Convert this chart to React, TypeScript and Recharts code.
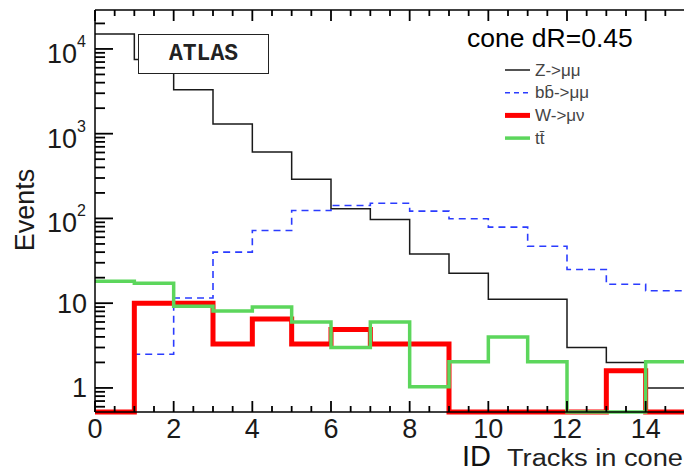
import React from 'react';
import { ComposedChart, Line, XAxis, YAxis } from 'recharts';

// bin edges of the histogram (track multiplicity 0..15)
const BIN_EDGES = [0, 1, 2, 3, 4, 5, 6, 7, 8, 9, 10, 11, 12, 13, 14, 15];

// events per bin (0.52 = empty bin, sits on the floor)
const Z_MUMU = [15000, 7500, 3300, 1300, 610, 290, 130, 97, 38, 22.5, 11.1, 11.1, 3.0, 2.0, 1.0];
const BB_MUMU = [0.52, 2.5, 11.5, 40, 72, 124, 142, 151, 122, 99, 79, 47, 25, 16.7, 14];
const W_MUNU = [0.52, 10, 10, 3.3, 6.5, 3.3, 4.9, 3.3, 3.3, 0.52, 0.52, 0.52, 0.52, 1.6, 0.52];
const TTBAR = [18.2, 17.2, 9.2, 8.1, 9.0, 6.0, 3.0, 6.0, 1.03, 2.04, 4.0, 2.04, 0.52, 0.52, 2.04];

const X_MAJOR = [0, 2, 4, 6, 8, 10, 12, 14];
const X_TICKS = Array.from({ length: 31 }, (_, i) => i / 2);
const Y_MAJOR = [1, 10, 100, 1000, 10000];
const Y_MIN = 0.52;
const Y_MAX = 28800;
const Y_TICKS = [0.1, 1, 10, 100, 1000, 10000]
  .flatMap((d) => [1, 2, 3, 4, 5, 6, 7, 8, 9].map((m) => m * d))
  .filter((v) => v >= Y_MIN && v <= Y_MAX);

const SERIES = [
  { key: 'z', name: 'Z->μμ', color: '#1a1a1a', width: 1.5, dash: undefined },
  { key: 'bb', name: 'bb\u0304->μμ', color: '#2b3cff', width: 1.6, dash: '7 5' },
  { key: 'w', name: 'W->μν', color: '#ff0000', width: 5, dash: undefined },
  { key: 'tt', name: 'tt\u0304', color: '#5cd65c', width: 3.5, dash: undefined },
];

const table = BIN_EDGES.map((x, i) => {
  const k = Math.min(i, Z_MUMU.length - 1);
  return { x, z: Z_MUMU[k], bb: BB_MUMU[k], w: W_MUNU[k], tt: TTBAR[k] };
});

const FONT = '"Liberation Sans", Arial, Helvetica, sans-serif';
const TICK = '#000';
const TICK_W = 1.8;

const BottomTick = (props: any) => {
  const { x, y, payload } = props;
  const major = X_MAJOR.includes(payload.value);
  return (
    <g>
      <path d={`M${x},${y}L${x},${y - (major ? 11 : 6)}`} stroke={TICK} strokeWidth={TICK_W} />
      {major && (
        <text x={x} y={y + 26} textAnchor="middle" fontSize={27} fontFamily={FONT} fill="#1a1a1a">
          {payload.value}
        </text>
      )}
    </g>
  );
};

const TopTick = (props: any) => {
  const { x, y, payload } = props;
  const major = X_MAJOR.includes(payload.value);
  return <path d={`M${x},${y}L${x},${y + (major ? 11 : 6)}`} stroke={TICK} strokeWidth={TICK_W} />;
};

const LeftTick = (props: any) => {
  const { x, y, payload } = props;
  const v = payload.value;
  const major = Y_MAJOR.includes(v);
  const exp = Math.round(Math.log10(v));
  return (
    <g>
      <path d={`M${x},${y}L${x + (major ? 18 : 10)},${y}`} stroke={TICK} strokeWidth={TICK_W} />
      {major && exp >= 2 && (
        <text x={x - 9} y={y + 14} textAnchor="end" fontSize={27} fontFamily={FONT} fill="#1a1a1a">
          <tspan>10</tspan>
          <tspan dy={-16} fontSize={16}>{exp}</tspan>
        </text>
      )}
      {major && exp < 2 && (
        <text x={x - 8} y={y + 9.5} textAnchor="end" fontSize={27} fontFamily={FONT} fill="#1a1a1a">
          {v}
        </text>
      )}
    </g>
  );
};

const RightTick = (props: any) => {
  const { x, y, payload } = props;
  const major = Y_MAJOR.includes(payload.value);
  return <path d={`M${x},${y}L${x - (major ? 18 : 10)},${y}`} stroke={TICK} strokeWidth={TICK_W} />;
};

const axisLine = { stroke: '#000', strokeWidth: 1.5 };

export default function App() {
  return (
    <div style={{ position: 'absolute', left: 0, top: 0, width: 684, height: 471, overflow: 'hidden', background: '#fff' }}>
      <ComposedChart width={686} height={471} data={table} margin={{ top: 0, right: 0, bottom: 0, left: 0 }}>
        <XAxis xAxisId="b" dataKey="x" type="number" domain={[0, 15]} ticks={X_TICKS} interval={0} tick={<BottomTick />} tickLine={false} tickSize={0} tickMargin={0} height={59} axisLine={axisLine} />
        <XAxis xAxisId="t" orientation="top" type="number" domain={[0, 15]} ticks={X_TICKS} interval={0} tick={<TopTick />} tickLine={false} tickSize={0} tickMargin={0} height={10} axisLine={axisLine} />
        <YAxis yAxisId="l" scale="log" type="number" domain={[Y_MIN, Y_MAX]} ticks={Y_TICKS} interval={0} tick={<LeftTick />} tickLine={false} tickSize={0} tickMargin={0} width={95} axisLine={axisLine} />
        <YAxis yAxisId="r" orientation="right" scale="log" type="number" domain={[Y_MIN, Y_MAX]} ticks={Y_TICKS} interval={0} tick={<RightTick />} tickLine={false} tickSize={0} tickMargin={0} width={1} axisLine={axisLine} />
        {SERIES.map((s) => (
          <Line
            key={s.key}
            xAxisId="b"
            yAxisId="l"
            type="stepAfter"
            dataKey={s.key}
            name={s.name}
            stroke={s.color}
            strokeWidth={s.width}
            strokeDasharray={s.dash}
            dot={false}
            activeDot={false}
            isAnimationActive={false}
          />
        ))}
      </ComposedChart>
      {/* axis titles, legend and the in-plot texts */}
      <svg width={684} height={471} style={{ position: 'absolute', left: 0, top: 0, pointerEvents: 'none' }}>
        <text x={34} y={210} transform="rotate(-90, 34, 210)" textAnchor="middle" fontSize={27} fontFamily={FONT} fill="#1a1a1a">
          Events
        </text>
        <text x={462} y={466} fontSize={29} fontFamily={FONT} fill="#111">ID</text>
        <text x={507} y={466} fontSize={23} fontFamily={FONT} textLength={176} lengthAdjust="spacingAndGlyphs" fill="#222">
          Tracks in cone
        </text>
        <text x={467} y={47} fontSize={26.5} fontFamily={FONT} fill="#000">cone dR=0.45</text>
        {SERIES.map((s, i) => {
          const cy = 70 + i * 22.7;
          return (
            <g key={s.key}>
              <line x1={505} x2={530} y1={cy} y2={cy} stroke={s.color} strokeWidth={s.width} strokeDasharray={s.dash ? '5 4' : undefined} />
              <text x={535} y={cy + 5.5} fontSize={17} fontFamily={FONT} fill="#444">{s.name}</text>
            </g>
          );
        })}
      </svg>
      <div
        style={{
          position: 'absolute',
          left: 138,
          top: 34,
          width: 131,
          height: 40,
          boxSizing: 'border-box',
          border: '1.5px solid #222',
          background: '#fff',
          display: 'flex',
          alignItems: 'center',
          justifyContent: 'center',
          fontFamily: '"Liberation Mono", "Courier New", monospace',
          fontWeight: 'bold',
          fontSize: 23,
          color: '#222',
        }}
      >
        ATLAS
      </div>
    </div>
  );
}
